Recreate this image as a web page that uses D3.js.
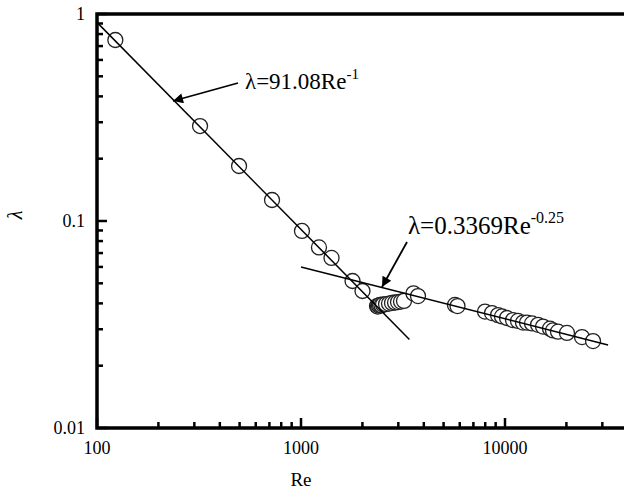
<!DOCTYPE html>
<html lang="en">
<head>
<meta charset="UTF-8"/>
<title>Friction factor vs Re</title>
<script src="https://d3js.org/d3.v7.min.js"></script>
<style>
    body { margin: 0; background: #fff; }
    text { font-family: "Liberation Serif", "Times New Roman", serif; fill: #000; }
</style>
</head>
<body>
<script>
    //measured points (Re, lambda)
    var reValues = [123, 320, 497, 721, 1011, 1225, 1411, 1789, 2002,
        2358, 2380, 2410, 2439, 2480, 2523, 2611, 2700, 2793, 2890, 2989, 3092, 3198,
        3560, 3746, 5686, 5851, 7980, 8637, 9243, 9667, 10228, 10944,
        11578, 12250, 12820, 13566, 14520, 15360, 16620, 17190, 18190,
        20130, 23850, 27010];
    var lambdaValues = [0.749, 0.2876, 0.1844, 0.1263, 0.0895, 0.0745, 0.0663, 0.0513, 0.0459,
        0.0388, 0.0386, 0.0390, 0.0393, 0.0391, 0.0395, 0.0397, 0.0399, 0.0402, 0.0404, 0.0406, 0.0408, 0.0411,
        0.0447, 0.0434, 0.0393, 0.0388, 0.0365, 0.0359, 0.0351, 0.0346, 0.0340, 0.0332,
        0.0329, 0.0323, 0.0323, 0.0320, 0.0315, 0.0309, 0.0302, 0.0296, 0.0292,
        0.0288, 0.0275, 0.0263];

    //fitted curves lambda = a * Re^b, drawn between fitStart and fitEnd
    var fitA = [91.08, 0.3369];
    var fitB = [-1, -0.25];
    var fitStart = [100, 1000];
    var fitEnd = [3400, 32000];

    var xTickLabels = [100, 1000, 10000];
    var yTickLabels = [1, 0.1, 0.01];

    var w = 624;
    var h = 492;
    var padLeft = 97, padTop = 14, padBottom = 428;
    var decadeX = 204;

    var xScale = d3.scaleLog()
        .domain([100, 100000])
        .range([padLeft, padLeft + 3 * decadeX]);

    var yScale = d3.scaleLog()
        .domain([0.01, 1])
        .range([padBottom, padTop]);

    var svg = d3.select("body")
        .append("svg")
        .attr("width", w)
        .attr("height", h);

    //minor + major ticks, pointing inwards
    var xTicks = xScale.ticks();
    svg.selectAll(".xtick")
        .data(xTicks.filter(function (d) { return d < 40000; }))
        .enter()
        .append("line")
        .attr("x1", function (d) { return xScale(d); })
        .attr("x2", function (d) { return xScale(d); })
        .attr("y1", padBottom)
        .attr("y2", function (d) { return xTickLabels.indexOf(d) >= 0 ? padBottom - 10 : padBottom - 6; })
        .attr("stroke", "#000")
        .attr("stroke-width", 2.5);

    var yTicks = yScale.ticks();
    svg.selectAll(".ytick")
        .data(yTicks)
        .enter()
        .append("line")
        .attr("y1", function (d) { return yScale(d); })
        .attr("y2", function (d) { return yScale(d); })
        .attr("x1", padLeft)
        .attr("x2", function (d) { return yTickLabels.indexOf(d) >= 0 ? padLeft + 10 : padLeft + 6; })
        .attr("stroke", "#000")
        .attr("stroke-width", 2.5);

    //frame (right side lies outside the picture)
    svg.append("path")
        .attr("d", "M" + xScale(100000) + "," + padTop + "H" + padLeft + "V" + padBottom + "H" + xScale(100000))
        .attr("fill", "none")
        .attr("stroke", "#000")
        .attr("stroke-width", 3.5);

    //tick labels
    svg.selectAll(".xlab")
        .data(xTickLabels)
        .enter()
        .append("text")
        .attr("x", function (d) { return xScale(d); })
        .attr("y", 454)
        .attr("text-anchor", "middle")
        .attr("font-size", "18px")
        .text(function (d) { return d; });

    svg.selectAll(".ylab")
        .data(yTickLabels)
        .enter()
        .append("text")
        .attr("x", padLeft - 12)
        .attr("y", function (d) { return yScale(d) + 6; })
        .attr("text-anchor", "end")
        .attr("font-size", "18px")
        .text(function (d) { return d; });

    svg.append("text")
        .attr("x", xScale(1000))
        .attr("y", 486)
        .attr("text-anchor", "middle")
        .attr("font-size", "19px")
        .text("Re");

    svg.append("text")
        .attr("transform", "translate(22,215) rotate(-90)")
        .attr("text-anchor", "middle")
        .attr("font-size", "20px")
        .attr("font-style", "italic")
        .text("λ");

    //data circles
    var points = reValues.map(function (d, i) { return [d, lambdaValues[i]]; });
    svg.selectAll("circle")
        .data(points)
        .enter()
        .append("circle")
        .attr("cx", function (d) { return xScale(d[0]); })
        .attr("cy", function (d) { return yScale(d[1]); })
        .attr("r", 7.5)
        .attr("fill", "#fff")
        .attr("stroke", "#222")
        .attr("stroke-width", 1.3);

    //fit lines
    var line = d3.line()
        .x(function (d) { return xScale(d[0]); })
        .y(function (d) { return yScale(d[1]); });

    fitA.forEach(function (a, i) {
        var pts = [fitStart[i], fitEnd[i]].map(function (re) { return [re, a * Math.pow(re, fitB[i])]; });
        svg.append("path")
            .attr("d", line(pts))
            .attr("fill", "none")
            .attr("stroke", "#000")
            .attr("stroke-width", 1.5);
    });

    //annotation arrows
    svg.append("defs").append("marker")
        .attr("id", "head")
        .attr("viewBox", "0 0 10 10")
        .attr("refX", 10)
        .attr("refY", 5)
        .attr("markerWidth", 22)
        .attr("markerHeight", 10)
        .attr("markerUnits", "userSpaceOnUse")
        .attr("orient", "auto")
        .append("path")
        .attr("d", "M0,0L10,5L0,10Z")
        .attr("fill", "#000");

    var arrows = [[238, 83, 173, 101], [407, 242, 382, 287]];
    svg.selectAll(".arrow")
        .data(arrows)
        .enter()
        .append("line")
        .attr("x1", function (d) { return d[0]; })
        .attr("y1", function (d) { return d[1]; })
        .attr("x2", function (d) { return d[2]; })
        .attr("y2", function (d) { return d[3]; })
        .attr("stroke", "#000")
        .attr("stroke-width", 1.8)
        .attr("marker-end", "url(#head)");

    //equation labels
    var eq1 = svg.append("text").attr("x", 245).attr("y", 89).attr("font-size", "23px");
    eq1.append("tspan").text("λ=91.08Re");
    eq1.append("tspan").attr("dy", -10).attr("font-size", "15px").text("-1");

    var eq2 = svg.append("text").attr("x", 408).attr("y", 234).attr("font-size", "25px");
    eq2.append("tspan").text("λ=0.3369Re");
    eq2.append("tspan").attr("dy", -11).attr("font-size", "16px").text("-0.25");
</script>
</body>
</html>
